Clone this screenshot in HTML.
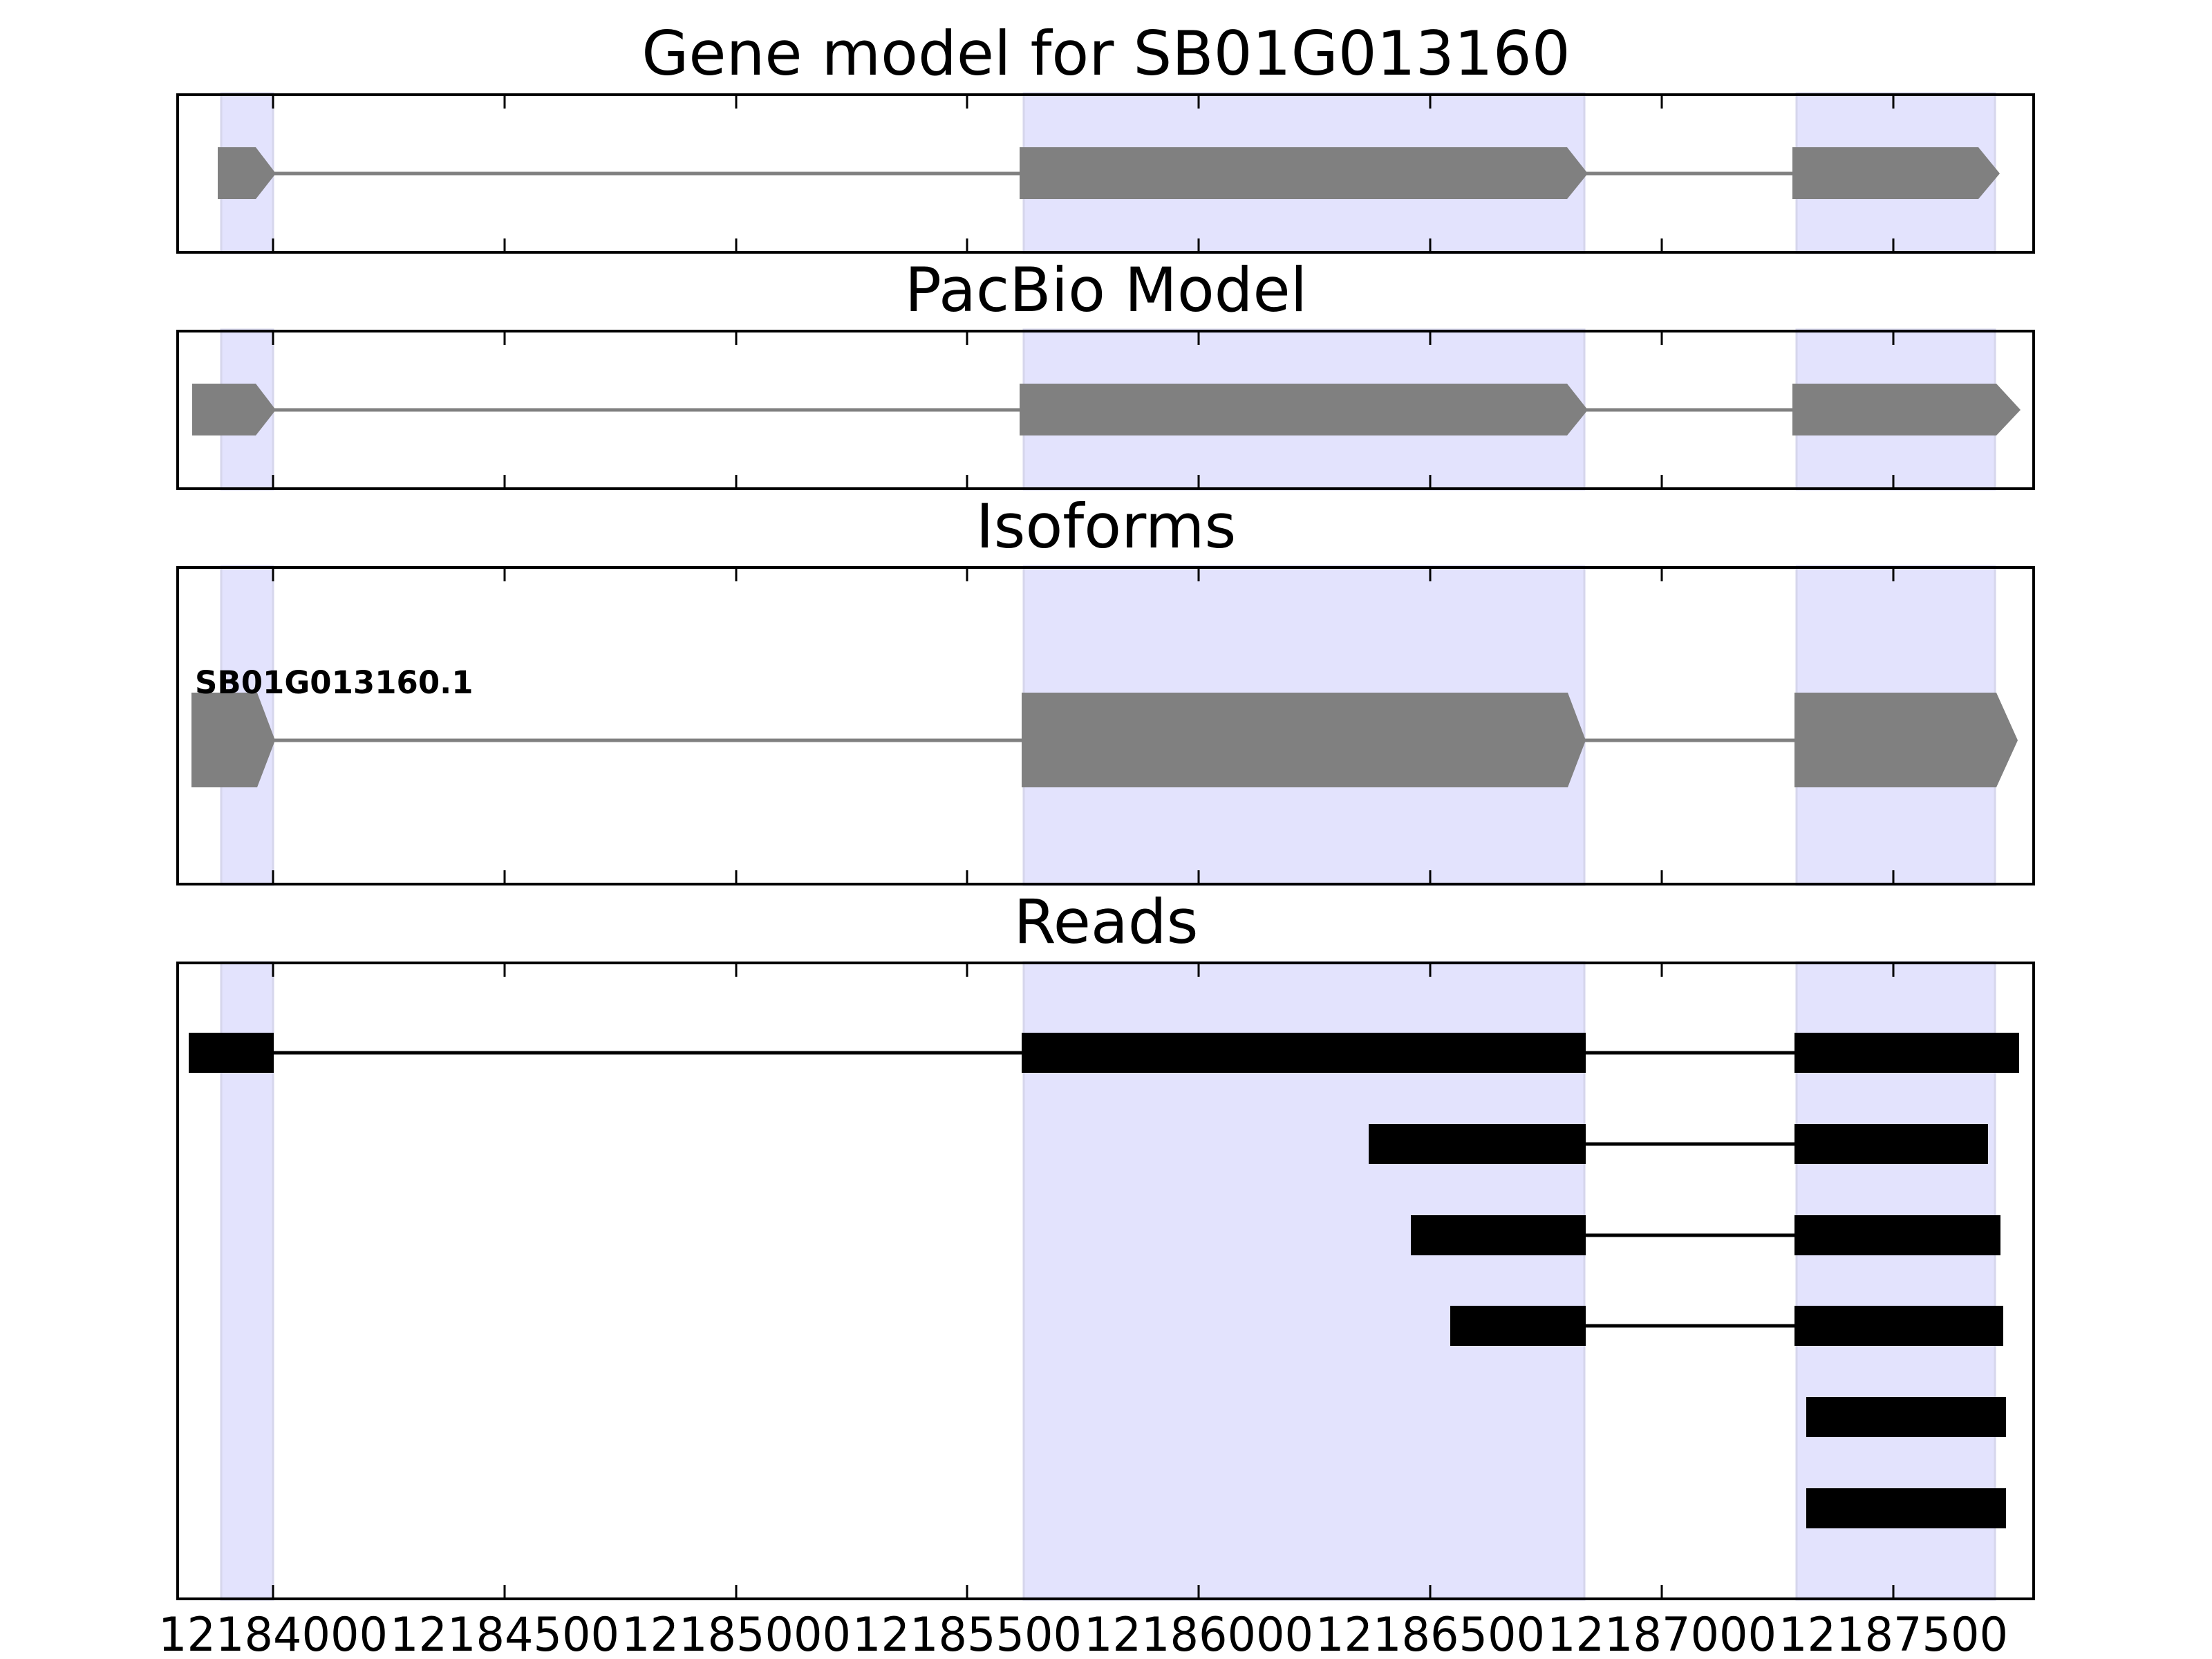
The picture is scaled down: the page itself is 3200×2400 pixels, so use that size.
<!DOCTYPE html>
<html><head><meta charset="utf-8"><style>html,body{margin:0;padding:0;background:#fff}svg{display:block}</style></head>
<body>
<svg width="3200" height="2400" viewBox="0 0 3200 2400" xmlns="http://www.w3.org/2000/svg" font-family="'DejaVu Sans','Liberation Sans',sans-serif">
<rect width="3200" height="2400" fill="#fff"/>
<g fill="#e3e3fd" stroke="#d6d6ec" stroke-width="3">
<rect x="320" y="135" width="75" height="231"/><rect x="1481" y="135" width="811" height="231"/><rect x="2599" y="135" width="287" height="231"/>
<rect x="320" y="477" width="75" height="231"/><rect x="1481" y="477" width="811" height="231"/><rect x="2599" y="477" width="287" height="231"/>
<rect x="320" y="819" width="75" height="461"/><rect x="1481" y="819" width="811" height="461"/><rect x="2599" y="819" width="287" height="461"/>
<rect x="320" y="1392" width="75" height="922"/><rect x="1481" y="1392" width="811" height="922"/><rect x="2599" y="1392" width="287" height="922"/>
</g>
<g fill="#808080">
<line x1="395" y1="251" x2="2600" y2="251" stroke="#808080" stroke-width="5"/>
<polygon points="315,213 370,213 399,251 370,288 315,288"/>
<polygon points="1475,213 2267,213 2297,251 2267,288 1475,288"/>
<polygon points="2593,213 2862,213 2893,251 2862,288 2593,288"/>
<line x1="395" y1="593" x2="2600" y2="593" stroke="#808080" stroke-width="5"/>
<polygon points="278,555 370,555 399,593 370,630 278,630"/>
<polygon points="1475,555 2267,555 2297,593 2267,630 1475,630"/>
<polygon points="2593,555 2888,555 2923,593 2888,630 2593,630"/>
<line x1="395" y1="1071" x2="2600" y2="1071" stroke="#808080" stroke-width="5"/>
<polygon points="277,1002 372,1002 398,1071 372,1139 277,1139"/>
<polygon points="1478,1002 2268,1002 2294,1071 2268,1139 1478,1139"/>
<polygon points="2596,1002 2888,1002 2919,1071 2888,1139 2596,1139"/>
</g>
<text x="282" y="1003" font-size="45" font-weight="bold" fill="#000">SB01G013160.1</text>
<g fill="#000" stroke="#000" stroke-width="5">
<line x1="396" y1="1523" x2="1478" y2="1523"/><line x1="2294" y1="1523" x2="2596" y2="1523"/>
<line x1="2294" y1="1655" x2="2596" y2="1655"/>
<line x1="2294" y1="1787" x2="2596" y2="1787"/>
<line x1="2294" y1="1918" x2="2596" y2="1918"/>
</g>
<g fill="#000">
<rect x="273" y="1494" width="123" height="58"/><rect x="1478" y="1494" width="816" height="58"/><rect x="2596" y="1494" width="325" height="58"/>
<rect x="1980" y="1626" width="314" height="58"/><rect x="2596" y="1626" width="280" height="58"/>
<rect x="2041" y="1758" width="253" height="58"/><rect x="2596" y="1758" width="298" height="58"/>
<rect x="2098" y="1889" width="196" height="58"/><rect x="2596" y="1889" width="302" height="58"/>
<rect x="2613" y="2021" width="289" height="58"/>
<rect x="2613" y="2153" width="289" height="58"/>
</g>
<g fill="none" stroke="#000" stroke-width="4">
<rect x="257" y="137" width="2685" height="228"/>
<rect x="257" y="479" width="2685" height="228"/>
<rect x="257" y="821" width="2685" height="458"/>
<rect x="257" y="1393" width="2685" height="920"/>
</g>
<g stroke="#000" stroke-width="3">
<path d="M395 137v20M730 137v20M1065 137v20M1399 137v20M1734 137v20M2069 137v20M2404 137v20M2739 137v20
M395 365v-20M730 365v-20M1065 365v-20M1399 365v-20M1734 365v-20M2069 365v-20M2404 365v-20M2739 365v-20
M395 479v20M730 479v20M1065 479v20M1399 479v20M1734 479v20M2069 479v20M2404 479v20M2739 479v20
M395 707v-20M730 707v-20M1065 707v-20M1399 707v-20M1734 707v-20M2069 707v-20M2404 707v-20M2739 707v-20
M395 821v20M730 821v20M1065 821v20M1399 821v20M1734 821v20M2069 821v20M2404 821v20M2739 821v20
M395 1279v-20M730 1279v-20M1065 1279v-20M1399 1279v-20M1734 1279v-20M2069 1279v-20M2404 1279v-20M2739 1279v-20
M395 1393v20M730 1393v20M1065 1393v20M1399 1393v20M1734 1393v20M2069 1393v20M2404 1393v20M2739 1393v20
M395 2313v-20M730 2313v-20M1065 2313v-20M1399 2313v-20M1734 2313v-20M2069 2313v-20M2404 2313v-20M2739 2313v-20"/>
</g>
<g font-size="88" text-anchor="middle" fill="#000">
<text x="1600" y="108">Gene model for SB01G013160</text>
<text x="1600" y="450">PacBio Model</text>
<text x="1600" y="792">Isoforms</text>
<text x="1600" y="1364">Reads</text>
</g>
<g font-size="68" text-anchor="middle" fill="#000">
<text x="395" y="2388" textLength="332" lengthAdjust="spacingAndGlyphs">12184000</text>
<text x="730" y="2388" textLength="332" lengthAdjust="spacingAndGlyphs">12184500</text>
<text x="1065" y="2388" textLength="332" lengthAdjust="spacingAndGlyphs">12185000</text>
<text x="1399" y="2388" textLength="332" lengthAdjust="spacingAndGlyphs">12185500</text>
<text x="1734" y="2388" textLength="332" lengthAdjust="spacingAndGlyphs">12186000</text>
<text x="2069" y="2388" textLength="332" lengthAdjust="spacingAndGlyphs">12186500</text>
<text x="2404" y="2388" textLength="332" lengthAdjust="spacingAndGlyphs">12187000</text>
<text x="2739" y="2388" textLength="332" lengthAdjust="spacingAndGlyphs">12187500</text>
</g>
</svg>
</body></html>
